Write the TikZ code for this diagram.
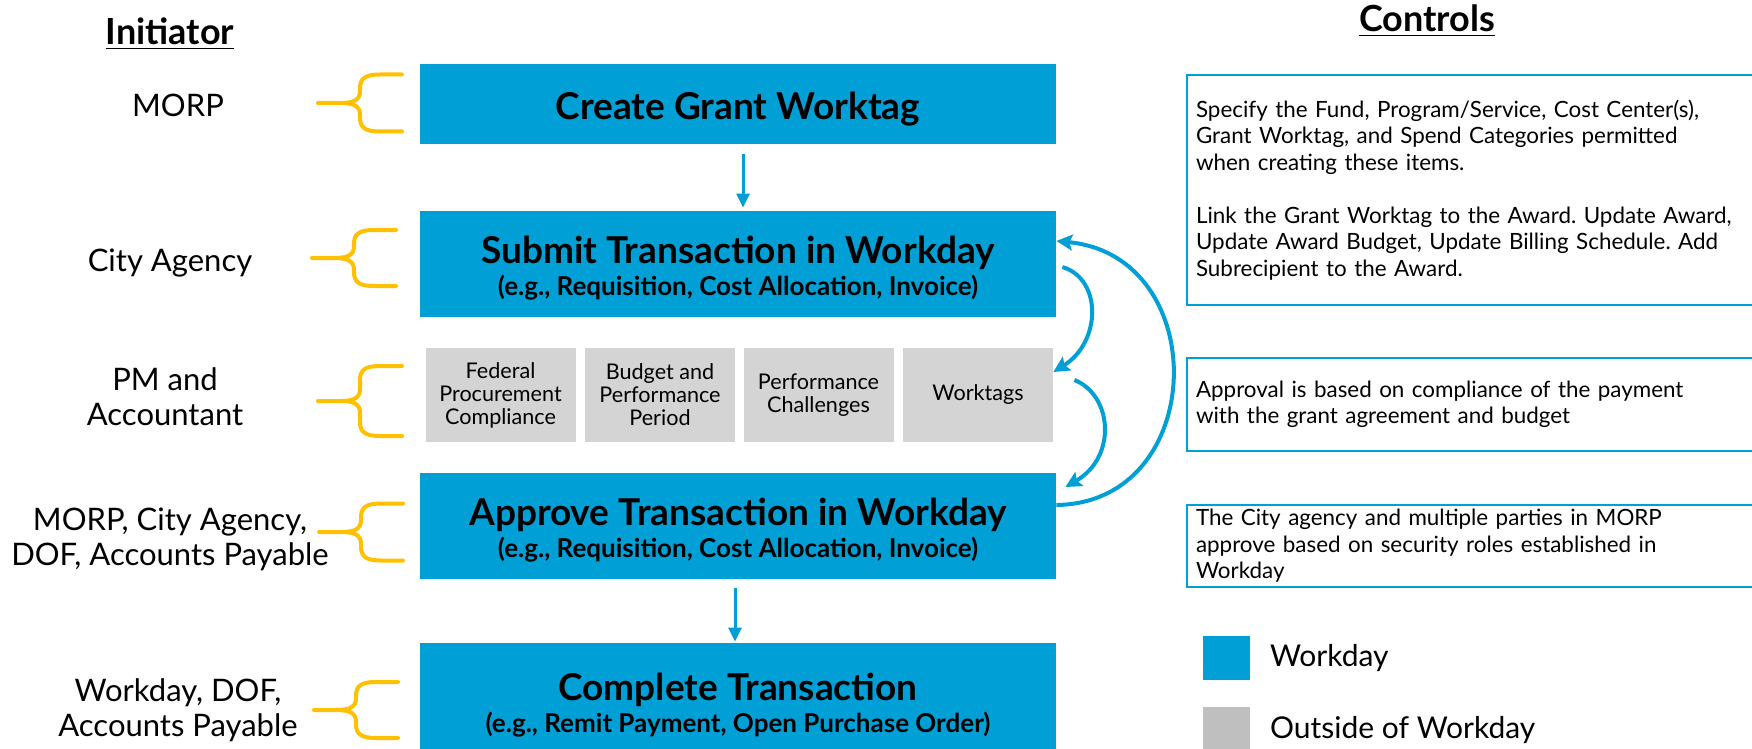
\documentclass[tikz,border=0pt]{standalone}
\usepackage{fontspec}
\setmainfont{Lato}
\usetikzlibrary{arrows.meta}
\definecolor{wdblue}{RGB}{0,160,214}
\definecolor{outgray}{RGB}{212,212,212}
\definecolor{keygray}{RGB}{191,191,191}
\definecolor{bracegold}{RGB}{255,192,0}
\frenchspacing

\begin{document}
\begin{tikzpicture}[x=0.5pt,y=-0.5pt,
        wdbox/.style={fill=wdblue,minimum width=318pt,inner sep=0pt,align=center,font=\fontsize{13}{16}\selectfont\bfseries},
        outbox/.style={fill=outgray,minimum width=75pt,minimum height=47pt,inner sep=0pt,align=center,font=\fontsize{10.8}{11.5}\selectfont},
        ctrlbox/.style={draw=wdblue,line width=1pt,anchor=north west,text width=300pt,inner xsep=4.5pt,inner ysep=0pt,align=left,font=\fontsize{11.2}{13.25}\selectfont},
        initlabel/.style={align=center,font=\fontsize{15.5}{17.5}\selectfont},
        heading/.style={anchor=base,font=\fontsize{18}{20}\selectfont\bfseries},
        keytext/.style={anchor=west,font=\fontsize{15}{17}\selectfont},
        bracket/.style={bracegold,line width=2pt,line cap=round,line join=round},
        flowarrow/.style={-{Stealth[length=7pt,width=6.5pt,inset=0pt]},line width=1.5pt,wdblue},
        looparrow/.style={-{Stealth[length=8pt,width=8pt,inset=1.5pt]},line width=2pt,wdblue}]
        \useasboundingbox (0,0) rectangle (1752,749);
        \clip (0,0) rectangle (1752,749);
        \node [heading] (initiator) at (170,45) {\underline{Initiator}};
        \node [heading] (controls) at (1427,32) {\underline{Controls}};
        \node [wdbox,minimum height=40pt,text height=17pt,text depth=1.6pt] (create) at (738,104) {\fontsize{18.5}{20}\selectfont Create Grant Worktag};
        \node [wdbox,minimum height=53pt] (submit) at (738,264) {{\fontsize{18.5}{20}\selectfont\rule{0pt}{18pt}Submit Transaction in Workday}\\(e.g., Requisition, Cost Allocation, Invoice)};
        \node [wdbox,minimum height=53pt] (approve) at (738,526) {{\fontsize{18.5}{20}\selectfont\rule{0pt}{18pt}Approve Transaction in Workday}\\(e.g., Requisition, Cost Allocation, Invoice)};
        \node [wdbox,minimum height=59pt] (complete) at (738,702) {{\fontsize{18.5}{20}\selectfont\rule{0pt}{17pt}Complete Transaction}\\(e.g., Remit Payment, Open Purchase Order)};
        \node [outbox] (fedproc) at (500.5,395) {Federal\\Procurement\\Compliance};
        \node [outbox] (budget) at (660,395) {Budget and\\Performance\\Period};
        \node [outbox] (perfchal) at (818.5,395) {Performance\\Challenges};
        \node [outbox] (worktags) at (978,395) {Worktags};
        \node [initlabel] (morp) at (178,105) {MORP};
        \node [initlabel] (agency) at (170,263) {City Agency};
        \node [initlabel] (pmacct) at (165,397) {PM and\\Accountant};
        \node [initlabel] (approvers) at (170,539) {MORP, City Agency,\\DOF, Accounts Payable};
        \node [initlabel] (payers) at (178,710) {Workday, DOF,\\Accounts Payable};
        \node [ctrlbox,minimum height=115pt] (ctrlcreate) at (1186,74) {Specify the Fund, Program/Service, Cost Center(s),\\Grant Worktag, and Spend Categories permitted\\when creating these items.\\[13.25pt]Link the Grant Worktag to the Award. Update Award,\\Update Award Budget, Update Billing Schedule. Add\\Subrecipient to the Award.};
        \node [ctrlbox,minimum height=46.5pt] (ctrlapprove) at (1186,357) {Approval is based on compliance of the payment\\with the grant agreement and budget};
        \node [ctrlbox,minimum height=41pt] (ctrlroles) at (1186,504) {The City agency and multiple parties in MORP\\approve based on security roles established in\\Workday};
        \node [fill=wdblue,minimum width=23.5pt,minimum height=22pt,inner sep=0pt] (keywd) at (1226.5,658) {};
        \node [keytext] (keywdtext) at (1263,658) {Workday};
        \node [fill=keygray,minimum width=23.5pt,minimum height=30pt,inner sep=0pt] (keyout) at (1226.5,737) {};
        \node [keytext] (keyouttext) at (1263,730) {Outside of Workday};
        \foreach \tx/\ty/\hh in {318/103/28.5,312/258/28,318/401/35,319/532/28.5,314/710/28}
            \draw [bracket,shift={(\tx,\ty)}] (84,-\hh) -- (62,-\hh) .. controls (47,-\hh) and (42,{-\hh+4}) .. (42,{-\hh+14}) -- (42,-12) .. controls (42,-3) and (36,0) .. (22,0) -- (0,0) -- (22,0) .. controls (36,0) and (42,3) .. (42,12) -- (42,{\hh-14}) .. controls (42,{\hh-4}) and (47,\hh) .. (62,\hh) -- (84,\hh);
        \draw [flowarrow,shorten <=5pt,shorten >=1.5pt] ([xshift=2.5pt]create.south) -- ([xshift=2.5pt]submit.north);
        \draw [flowarrow,shorten <=4.5pt,shorten >=0.5pt] ([xshift=-1.5pt]approve.south) -- ([xshift=-1.5pt]complete.north);
        \draw [looparrow] ([yshift=10.5pt]approve.east) .. controls +(152,-2) and +(157,15) .. ([yshift=11.5pt]submit.east);
        \draw [looparrow] ([xshift=3pt,yshift=-1.5pt]submit.east) .. controls +(40,12) and +(48,-30) .. ([yshift=11.5pt]worktags.east);
        \draw [looparrow] ([xshift=10.5pt,yshift=7.5pt]worktags.east) .. controls +(38,15) and +(52,-30) .. ([xshift=4.5pt,yshift=19.5pt]approve.east);
\end{tikzpicture}
\end{document}
